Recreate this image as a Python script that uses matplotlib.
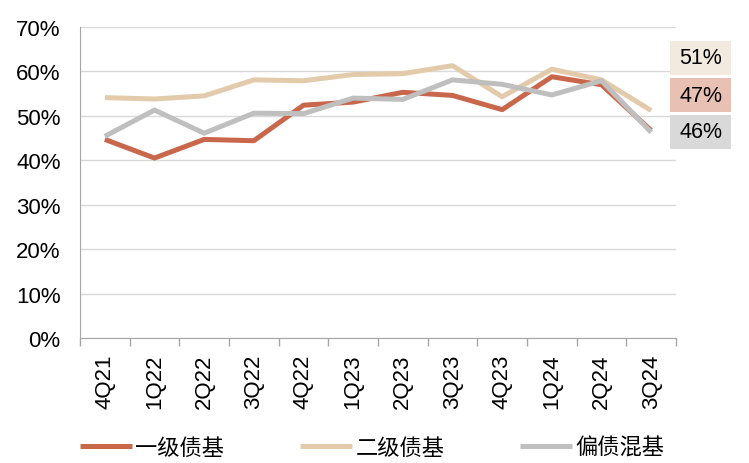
import matplotlib
matplotlib.use("Agg")
import matplotlib.pyplot as plt
from matplotlib.patches import Rectangle
import numpy as np

plt.rcParams['font.family'] = ['Liberation Sans', 'Noto Sans CJK SC', 'DejaVu Sans']

quarters = ["4Q21", "1Q22", "2Q22", "3Q22", "4Q22", "1Q23", "2Q23", "3Q23", "4Q23", "1Q24", "2Q24", "3Q24"]
tier1 = [44.7, 40.5, 44.7, 44.4, 52.4, 53.1, 55.3, 54.6, 51.4, 58.8, 57.0, 46.7]
tier2 = [54.1, 53.8, 54.5, 58.1, 57.9, 59.3, 59.5, 61.3, 54.3, 60.5, 58.1, 51.2]
mixed = [45.4, 51.3, 46.1, 50.6, 50.5, 54.0, 53.7, 58.1, 57.1, 54.7, 57.9, 46.3]
series_names = ["一级债基", "二级债基", "偏债混基"]
end_labels = ["51%", "47%", "46%"]

c_red = "#C9674C"
c_beige = "#E3CAAA"
c_gray = "#BFBFBF"

W, H = 749, 464
fig = plt.figure(figsize=(W/100, H/100), dpi=100)
ax = fig.add_axes([80/W, 1-339/H, 596/W, (339-28)/H])

x = np.arange(len(quarters))
l1, = ax.plot(x, tier1, color=c_red, lw=3.6, label=series_names[0], solid_capstyle='butt')
l2, = ax.plot(x, tier2, color=c_beige, lw=3.6, label=series_names[1], solid_capstyle='butt')
l3, = ax.plot(x, mixed, color=c_gray, lw=3.6, label=series_names[2], solid_capstyle='butt')

ax.set_xlim(-0.5, len(quarters)-0.5)
ax.set_ylim(0, 70)
ax.set_yticks(np.arange(0, 71, 10))
ax.set_yticklabels([f"{v}%" for v in range(0, 71, 10)], fontsize=16, color="#000000")
ax.yaxis.grid(True, color="#D9D9D9", lw=1)
ax.set_axisbelow(True)
ax.set_xticks(x)
ax.set_xticklabels(quarters, rotation=90, fontsize=16)
ax.set_xticks(np.arange(-0.5, len(quarters), 1), minor=True)
ax.tick_params(axis='x', which='major', length=0, pad=11)
ax.tick_params(axis='x', which='minor', length=6, color="#A6A6A6", width=1)
ax.tick_params(axis='y', length=0, pad=14)
for s in ['top', 'right']:
    ax.spines[s].set_visible(False)
ax.spines['left'].set_color("#A6A6A6")
ax.spines['bottom'].set_color("#A6A6A6")

# end labels
box_colors = ["#F2EADF", "#E8C1B4", "#D9D9D9"]
box_tops = [42, 79, 116]
for lab, bc, top in zip(end_labels, box_colors, box_tops):
    rect = Rectangle((670/W, 1-(top+34)/H), 61/W, 34/H, transform=fig.transFigure,
                     facecolor=bc, edgecolor='none', zorder=1)
    fig.patches.append(rect)
    fig.text(700.5/W, 1-(top+17)/H, lab, ha='center', va='center', fontsize=15.5, color="#000000")

fig.legend(handles=[l1, l2, l3], labels=series_names, loc='center', bbox_to_anchor=(372/W, 1-448/H),
           ncol=3, frameon=False, handlelength=2.35, handletextpad=0.15,
           columnspacing=3.4, prop={'family': ['Noto Sans CJK SC'], 'size': 16})

fig.savefig("out.png", dpi=100)
